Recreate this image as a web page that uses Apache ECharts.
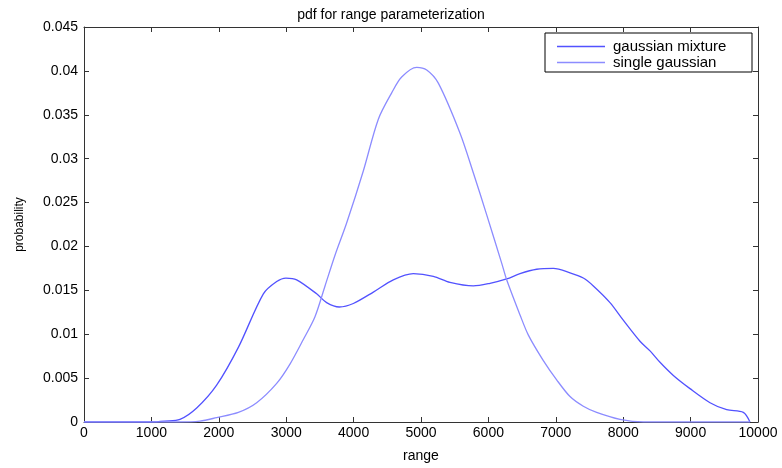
<!DOCTYPE html>
<html>
<head>
<meta charset="utf-8">
<script src="https://cdn.jsdelivr.net/npm/echarts@6/dist/echarts.min.js"></script>
<style>
html,body{margin:0;padding:0;background:#fff;}
#c{width:782px;height:468px;}
</style>
</head>
<body>
<div id="c"></div>
<script>
var titleText = 'pdf for range parameterization';
var xName = 'range';
var yName = 'probability';
var seriesNames = ['gaussian mixture', 'single gaussian'];

var mixX = [0, 1000, 1200, 1424, 1672, 1968, 2290, 2661, 2859, 2997, 3155, 3452, 3600, 3788, 3996, 4293, 4589, 4886, 5183, 5430, 5776, 6024, 6271, 6469, 6716, 6963, 7211, 7408, 7557, 7804, 8001, 8249, 8398, 8546, 8744, 8991, 9288, 9535, 9782, 9881];
var mixY = [0, 0, 0.0001, 0.0003, 0.0016, 0.0042, 0.0085, 0.0146, 0.0160, 0.0164, 0.0162, 0.0146, 0.0136, 0.0131, 0.0135, 0.0148, 0.0162, 0.0169, 0.0166, 0.0159, 0.0155, 0.0158, 0.0163, 0.0169, 0.0174, 0.0175, 0.0170, 0.0164, 0.0155, 0.0136, 0.0116, 0.0092, 0.0081, 0.0068, 0.0053, 0.0038, 0.0022, 0.0014, 0.0011, 0];

var singleX = [0, 1400, 1721, 1968, 2290, 2562, 2859, 3056, 3254, 3427, 3576, 3724, 3898, 4144, 4367, 4565, 4713, 4936, 5085, 5257, 5579, 5776, 5975, 6197, 6271, 6469, 6593, 6815, 7013, 7211, 7408, 7606, 7953, 8299, 9881];
var singleY = [0, 0, 0.0001, 0.0005, 0.0011, 0.0022, 0.0044, 0.0066, 0.0094, 0.0120, 0.0155, 0.0190, 0.0227, 0.0286, 0.0345, 0.0375, 0.0393, 0.0404, 0.0401, 0.0386, 0.0329, 0.0284, 0.0236, 0.0181, 0.0162, 0.0122, 0.0099, 0.0070, 0.0048, 0.0029, 0.0018, 0.0011, 0.0003, 0, 0];

function pairs(xs, ys){ return xs.map(function(x,i){ return [x, ys[i]]; }); }

var FONT = 'Liberation Sans, Arial, sans-serif';
var chart = echarts.init(document.getElementById('c'), null, {renderer:'canvas'});
var axisLine = {show:true, onZero:false, lineStyle:{color:'#333', width:1}};
var tick = {show:true, inside:true, length:5, lineStyle:{color:'#333'}};
chart.setOption({
  animation:false,
  backgroundColor:'#fff',
  title:{text:titleText, left:'center', top:3, textStyle:{fontFamily:FONT, fontSize:14, fontWeight:'normal', color:'#000'}},
  grid:{left:84, right:24, top:27, bottom:35, containLabel:false},
  legend:{
    data:seriesNames, orient:'vertical', left:552, top:34,
    icon:'rect', itemWidth:48, itemHeight:1.3, itemGap:1,
    textStyle:{fontFamily:FONT, fontSize:15, lineHeight:15, color:'#000', padding:[0,0,0,3]}
  },
  graphic:[{type:'rect', shape:{x:545, y:33, width:207, height:39}, style:{fill:'none', stroke:'#000', lineWidth:1}, z:100}],
  xAxis:[
    {type:'value', min:0, max:10000, interval:1000, position:'bottom',
     name:xName, nameLocation:'middle', nameGap:27,
     nameTextStyle:{fontFamily:FONT, fontSize:14, color:'#000'},
     axisLine:axisLine, axisTick:tick, splitLine:{show:false},
     axisLabel:{fontFamily:FONT, fontSize:14, color:'#000', margin:4,
       formatter:function(v){ return String(v); }}},
    {type:'value', min:0, max:10000, interval:1000, position:'top',
     axisLine:axisLine, axisTick:tick, splitLine:{show:false}, axisLabel:{show:false}}
  ],
  yAxis:[
    {type:'value', min:0, max:0.045, interval:0.005, position:'left',
     name:yName, nameLocation:'middle', nameGap:58,
     nameTextStyle:{fontFamily:FONT, fontSize:12, color:'#000'},
     axisLine:axisLine, axisTick:tick, splitLine:{show:false},
     axisLabel:{fontFamily:FONT, fontSize:14, color:'#000', margin:6,
       formatter:function(v){ return String(parseFloat(v.toFixed(3))); }}},
    {type:'value', min:0, max:0.045, interval:0.005, position:'right',
     axisLine:axisLine, axisTick:tick, splitLine:{show:false}, axisLabel:{show:false}}
  ],
  series:[
    {name:seriesNames[0], type:'line', symbol:'none', smooth:0.3, xAxisIndex:0, yAxisIndex:0,
     data:pairs(mixX, mixY), lineStyle:{color:'#5252ff', width:1.3}, itemStyle:{color:'#5252ff'}},
    {name:seriesNames[1], type:'line', symbol:'none', smooth:0.3, xAxisIndex:0, yAxisIndex:0,
     data:pairs(singleX, singleY), lineStyle:{color:'#8c8cff', width:1.3}, itemStyle:{color:'#8c8cff'}}
  ]
});
</script>
</body>
</html>
